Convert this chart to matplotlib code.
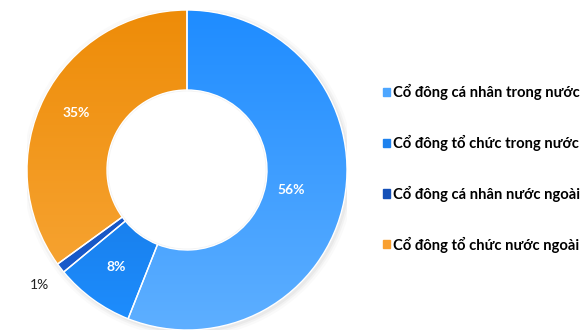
import numpy as np
import matplotlib.pyplot as plt
from matplotlib.colors import LinearSegmentedColormap

plt.rcParams['font.family'] = ['Lato', 'DejaVu Sans']

labels = ["Cổ đông cá nhân trong nước", "Cổ đông tổ chức trong nước",
          "Cổ đông cá nhân nước ngoài", "Cổ đông tổ chức nước ngoài"]
shares = [56, 8, 1, 35]
# (top colour, bottom colour) of the vertical gradient per slice
grad_colors = [("#1E8CFF", "#5EAFFF"), ("#0E66CC", "#1E8EFF"),
               ("#1249B0", "#1A5ED0"), ("#EE8C08", "#F8A83A")]
legend_colors = ["#4DA6FF", "#1E82EE", "#1450B8", "#F9A030"]
label_radius = [0.66, 0.75, 1.17, 0.78]

fig = plt.figure(figsize=(5.85, 3.3), dpi=100)
ax = fig.add_axes([27 / 585, 0.0, 320 / 585, 320 / 330])

# soft shadow around the ring
for r, a in [(1.035, 0.04), (1.02, 0.06), (1.008, 0.08)]:
    ax.add_patch(plt.Circle((0.01, -0.01), r, color='grey', alpha=a, lw=0, zorder=0))
ax.add_patch(plt.Circle((0, 0), 0.5, color='white', lw=0, zorder=0.5))
for r, a in [(0.5, 0.10), (0.515, 0.05)]:
    ax.add_patch(plt.Circle((0, 0), r, fill=False, ec='grey', alpha=a, lw=2, zorder=0.6))

wedges, _ = ax.pie(shares, startangle=90, counterclock=False, radius=1,
                   wedgeprops=dict(width=0.5, edgecolor='white', linewidth=1),
                   colors=[c[1] for c in grad_colors], frame=True)
ax.set_xlim(-1, 1)
ax.set_ylim(-1, 1)
ax.axis('off')

ramp = np.linspace(0, 1, 256).reshape(-1, 1)
for w, (top, bot) in zip(wedges, grad_colors):
    cmap = LinearSegmentedColormap.from_list('g', [top, bot])
    im = ax.imshow(ramp, cmap=cmap, extent=[-1, 1, -1, 1], origin='upper',
                   aspect='auto', zorder=w.get_zorder() + 0.1)
    im.set_clip_path(w)
    w.set_zorder(w.get_zorder() + 0.2)
    w.set_facecolor('none')

for w, val, r in zip(wedges, shares, label_radius):
    ang = np.deg2rad((w.theta1 + w.theta2) / 2)
    inside = r < 1
    ax.text(r * np.cos(ang), r * np.sin(ang), f"{val}%", ha='center', va='center',
            fontsize=10, fontweight='bold' if inside else 'normal',
            color='white' if inside else '#222222', zorder=5)

handles = [plt.Rectangle((0, 0), 1, 1, color=c) for c in legend_colors]
fig.legend(handles, labels, loc='upper left', bbox_to_anchor=(370 / 585, 1 - 71 / 330),
           frameon=False, handlelength=0.48, handleheight=0.48, handletextpad=0.2,
           labelspacing=2.35, prop=dict(weight='bold', size=10.6))

fig.savefig("out.png", dpi=100)
